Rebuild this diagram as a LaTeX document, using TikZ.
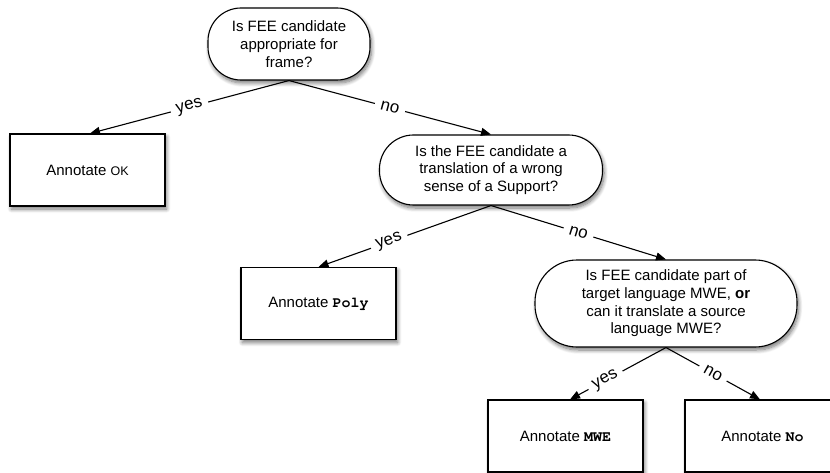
\documentclass[tikz,border=0pt]{standalone}
\usepackage{fontspec}
\setmainfont{Liberation Sans}
\newfontfamily\codefont{TeX Gyre Cursor}
\usetikzlibrary{arrows.meta,shadows.blur}
% annotation tags set in bold typewriter
\newcommand{\tagcode}[1]{{\codefont\bfseries #1}}
\begin{document}
\begin{tikzpicture}[x=1pt,y=-1pt,
  font=\fontsize{15}{17.7}\selectfont,
  softshadow/.style={blur shadow={shadow xshift=1.5pt, shadow yshift=-3pt,
      shadow blur radius=4pt, shadow blur steps=8, shadow opacity=55}},
  question/.style={draw, line width=1.1pt, fill=white, align=center,
      inner sep=0pt, softshadow},
  action/.style={draw, line width=1.1pt, fill=white, inner sep=0pt,
      minimum width=155pt, minimum height=72pt, softshadow},
  flow/.style={line width=1.1pt, -{Triangle[length=10pt,width=8pt]}},
  answer/.style={sloped, fill=white, inner xsep=6pt, inner ysep=2pt,
      font=\fontsize{17}{19}\selectfont}
]
\useasboundingbox (0,0) rectangle (830,473);

% decisions
\node[question, minimum width=162pt, minimum height=72pt, rounded corners=33pt]
  (q1) at (289,44) {Is FEE candidate\\appropriate for\\frame?};
\node[question, minimum width=223pt, minimum height=70pt, rounded corners=34pt]
  (q2) at (491,170) {Is the FEE candidate a\\translation of a wrong\\sense of a Support?};
\node[question, minimum width=262pt, minimum height=87pt, rounded corners=42pt]
  (q3) at (666,303.5) {Is FEE candidate part of\\target language MWE, \textbf{or}\\can it translate a source\\language MWE?};

% outcomes
\node[action] (ok)   at (87.5,170)   {Annotate {\fontsize{12.5}{14}\selectfont OK}};
\node[action] (poly) at (318.5,303.5) {Annotate \tagcode{Poly}};
\node[action] (mwe)  at (565.5,436)  {Annotate \tagcode{MWE}};
\node[action] (no)   at (762.5,436)  {Annotate \tagcode{No}};

% branches
\draw[flow] (q1.south) -- (ok.north -| 90,0)  node[answer, pos=0.5] {yes};
\draw[flow] (q1.south) -- (q2.north)          node[answer, pos=0.5] {no};
\draw[flow] (q2.south) -- (poly.north)        node[answer, pos=0.59] {yes};
\draw[flow] (q2.south) -- (q3.north)          node[answer, pos=0.5] {no};
\draw[flow] (q3.south) -- (mwe.north -| 570,0) node[answer, pos=0.63] {yes};
\draw[flow] (q3.south) -- (no.north -| 760,0)  node[answer, pos=0.5] {no};
\end{tikzpicture}
\end{document}
